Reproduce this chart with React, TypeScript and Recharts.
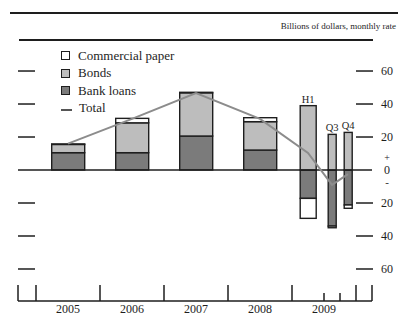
import React from "react";
import {
  ComposedChart,
  Bar,
  Line,
  XAxis,
  YAxis,
  ReferenceLine,
  LabelList,
} from "recharts";

// billions of dollars, monthly rate
const periods = ["2005", "2006", "2007", "2008", "H1", "Q3", "Q4"];
const positions = [0.5, 1.5, 2.5, 3.5, 4.25, 4.625, 4.875];
const barWidths = [33, 33, 33, 33, 16, 8, 8];
const bankLoans = [10.5, 10.5, 20.6, 12.1, -17.2, -34, -21.2];
const bonds = [5, 18.1, 26.2, 17.2, 39, 21.6, 22.8];
const commercialPaper = [0.3, 2.7, 0.3, 2.4, -12.1, -1, -2];
const total = [16, 31, 46.6, 31, 10.3, -9, -2.5];
const barTags = ["", "", "", "", "H1", "Q3", "Q4"];

const yTicksLeft = [-60, -40, -20, 20, 40, 60];
const yTicksRight = [-60, -40, -20, 0, 20, 40, 60];
const yearCenters = [0.5, 1.5, 2.5, 3.5, 4.5];
const yearLabels = ["2005", "2006", "2007", "2008", "2009"];
const majorBounds = [-0.28125, 0, 1, 2, 3, 4, 5, 5.25];
const minorBounds = [4.5, 4.75];

const data = periods.map((p, i) => ({
  name: p,
  pos: positions[i],
  w: barWidths[i],
  bank: bankLoans[i],
  bonds: bonds[i],
  cp: commercialPaper[i],
  total: total[i],
  tag: barTags[i],
}));

const xTicks = Array.from(new Set([...majorBounds, ...minorBounds, ...yearCenters])).sort((a, b) => a - b);

const SERIF = "'Liberation Serif', 'DejaVu Serif', serif";
const INK = "#1e1e1e";

const VarBar = (props: any) => {
  const { x, y, width, height, fill, payload } = props;
  if (x == null || y == null) return null;
  const w = payload?.w ?? width;
  const cx = x + width / 2;
  const top = Math.min(y, y + height);
  const h = Math.abs(height);
  return <rect x={cx - w / 2} y={top} width={w} height={h} fill={fill} stroke={INK} strokeWidth={1.4} />;
};

const LeftTick = ({ x, y }: any) => <line x1={x} x2={x + 17} y1={y} y2={y} stroke={INK} strokeWidth={1.5} />;

const RightTick = ({ x, y, payload }: any) => {
  const v = payload.value;
  return (
    <g>
      {v !== 0 && <line x1={x - 16} x2={x + 1} y1={y} y2={y} stroke={INK} strokeWidth={1.5} />}
      <text x={x + 15} y={y + 4} textAnchor="middle" fontSize={12} fontFamily={SERIF} fill={INK}>
        {Math.abs(v)}
      </text>
      {v === 0 && (
        <>
          <text x={x + 15} y={y - 9} textAnchor="middle" fontSize={10} fontFamily={SERIF} fill={INK}>+</text>
          <text x={x + 15} y={y + 16} textAnchor="middle" fontSize={11} fontFamily={SERIF} fill={INK}>-</text>
        </>
      )}
    </g>
  );
};

const BottomTick = ({ x, y, payload }: any) => {
  const v = payload.value;
  const li = yearCenters.indexOf(v);
  return (
    <g>
      {majorBounds.includes(v) && <line x1={x} x2={x} y1={y - 16} y2={y} stroke={INK} strokeWidth={1.5} />}
      {minorBounds.includes(v) && <line x1={x} x2={x} y1={y - 8} y2={y} stroke={INK} strokeWidth={1.5} />}
      {li >= 0 && (
        <text x={x} y={y + 12} textAnchor="middle" fontSize={12} fontFamily={SERIF} fill={INK}>
          {yearLabels[li]}
        </text>
      )}
    </g>
  );
};

const TagLabel = (props: any) => {
  const { x, y, width, value } = props;
  if (!value) return null;
  return (
    <text x={x + width / 2} y={y - 3} textAnchor="middle" fontSize={10.5} fontFamily={SERIF} fill={INK}>
      {value}
    </text>
  );
};

const legendItems = [
  { label: "Commercial paper", fill: "#ffffff", top: 55.5 },
  { label: "Bonds", fill: "#bdbdbd", top: 73 },
  { label: "Bank loans", fill: "#7b7b7b", top: 90.5 },
];

export default function App() {
  return (
    <div style={{ position: "absolute", left: 0, top: 0, width: 398, height: 316, background: "#fff", fontFamily: SERIF }}>
      <div style={{ position: "absolute", left: 10, top: 12, width: 388, height: 1.5, background: INK }} />
      <div style={{ position: "absolute", right: 2, top: 21, fontSize: 9, color: INK, whiteSpace: "nowrap" }}>
        Billions of dollars, monthly rate
      </div>
      <div style={{ position: "absolute", left: 19, top: 39, width: 354, height: 1.5, background: INK }} />
      <ComposedChart
        width={398}
        height={316}
        data={data}
        stackOffset="sign"
        margin={{ top: 40, right: 0, bottom: 0, left: 0 }}
      >
        <XAxis
          dataKey="pos"
          type="number"
          domain={[-0.28125, 5.25]}
          ticks={xTicks}
          interval={0}
          height={15}
          tickSize={0}
          tickMargin={0}
          tickLine={false}
          axisLine={{ stroke: INK, strokeWidth: 1.5 }}
          tick={<BottomTick />}
        />
        <YAxis
          yAxisId="left"
          orientation="left"
          width={18}
          domain={[-79.4, 78.8]}
          ticks={yTicksLeft}
          interval={0}
          tickSize={0}
          tickMargin={0}
          tickLine={false}
          axisLine={false}
          tick={<LeftTick />}
        />
        <YAxis
          yAxisId="right"
          orientation="right"
          width={26}
          domain={[-79.4, 78.8]}
          ticks={yTicksRight}
          interval={0}
          tickSize={0}
          tickMargin={0}
          tickLine={false}
          axisLine={false}
          tick={<RightTick />}
        />
        <Bar yAxisId="left" dataKey="bank" stackId="s" fill="#7b7b7b" barSize={33} shape={<VarBar />} isAnimationActive={false} />
        <Bar yAxisId="left" dataKey="bonds" stackId="s" fill="#bdbdbd" barSize={33} shape={<VarBar />} isAnimationActive={false}>
          <LabelList dataKey="tag" content={<TagLabel />} />
        </Bar>
        <Bar yAxisId="left" dataKey="cp" stackId="s" fill="#ffffff" barSize={33} shape={<VarBar />} isAnimationActive={false} />
        <ReferenceLine yAxisId="left" y={0} stroke={INK} strokeWidth={1.5} />
        <Line
          yAxisId="left"
          dataKey="total"
          type="linear"
          stroke="#8c8c8c"
          strokeWidth={2}
          dot={false}
          isAnimationActive={false}
        />
        {/* invisible twin so the right-hand axis gets drawn */}
        <Line
          yAxisId="right"
          dataKey="total"
          stroke="none"
          dot={false}
          activeDot={false}
          legendType="none"
          isAnimationActive={false}
        />
      </ComposedChart>
      {legendItems.map((it) => (
        <div key={it.label} style={{ position: "absolute", left: 61, top: it.top - 8, height: 16, display: "flex", alignItems: "center" }}>
          <span style={{ width: 7, height: 7, background: it.fill, border: `1.5px solid ${INK}`, display: "inline-block" }} />
          <span style={{ marginLeft: 8, fontSize: 13, color: INK, whiteSpace: "nowrap" }}>{it.label}</span>
        </div>
      ))}
      <div style={{ position: "absolute", left: 61, top: 100, height: 16, display: "flex", alignItems: "center" }}>
        <span style={{ width: 11, height: 1.5, background: "#555", display: "inline-block", marginTop: 4 }} />
        <span style={{ marginLeft: 7, fontSize: 13, color: INK }}>Total</span>
      </div>
    </div>
  );
}
